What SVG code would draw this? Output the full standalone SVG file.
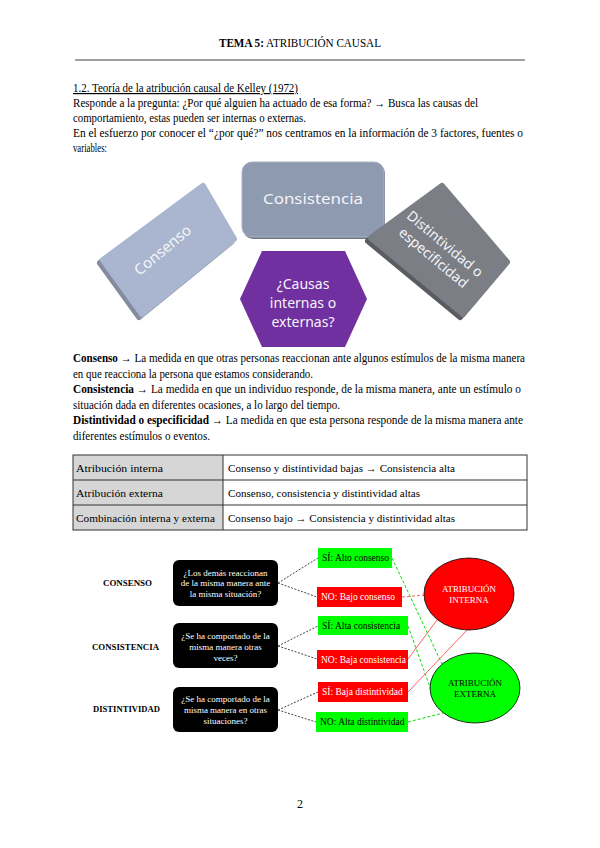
<svg xmlns="http://www.w3.org/2000/svg" width="600" height="848" viewBox="0 0 600 848">
<style>
.t{font-family:"Liberation Serif","Times New Roman",serif;font-size:12px;fill:#000}
.b{font-weight:bold}
.tc{font-family:"Liberation Serif","Times New Roman",serif;font-size:11px;fill:#000}
.sh{font-family:"Noto Sans","Open Sans",sans-serif;fill:#F4F4F8}
.q{font-family:"Liberation Serif","Times New Roman",serif;font-size:9px;fill:#fff;text-anchor:middle}
.lab{font-family:"Liberation Serif","Times New Roman",serif;font-size:9px;font-weight:bold;fill:#000}
.bx{font-family:"Liberation Serif","Times New Roman",serif;font-size:9.5px}
.dk{stroke:#444;stroke-width:1;stroke-dasharray:2 1.5;fill:none}
.gl{stroke:#00E000;stroke-width:1;stroke-dasharray:3 2;fill:none}
.rl{stroke:#FF6060;stroke-width:1;fill:none}
.rnd{stroke-linejoin:round;stroke-width:6}
</style>
<rect width="600" height="848" fill="#fff"/>
<g id="header">
<text x="300" y="47" text-anchor="middle" class="t" textLength="162" lengthAdjust="spacingAndGlyphs"><tspan class="b">TEMA 5:</tspan> ATRIBUCIÓN CAUSAL</text>
<line x1="75" y1="60" x2="525" y2="60" stroke="#A0A0A0" stroke-width="2"/>
</g>
<g id="intro">
<text x="73" y="92" class="t" text-decoration="underline" textLength="225" lengthAdjust="spacingAndGlyphs">1.2. Teoría de la atribución causal de Kelley (1972)</text>
<text x="73" y="107" class="t" textLength="405" lengthAdjust="spacingAndGlyphs">Responde a la pregunta: ¿Por qué alguien ha actuado de esa forma? → Busca las causas del</text>
<text x="73" y="122" class="t" textLength="233" lengthAdjust="spacingAndGlyphs">comportamiento, estas pueden ser internas o externas.</text>
<text x="73" y="137" class="t" textLength="450" lengthAdjust="spacingAndGlyphs">En el esfuerzo por conocer el “¿por qué?” nos centramos en la información de 3 factores, fuentes o</text>
<text x="73" y="152" class="t" textLength="34" lengthAdjust="spacingAndGlyphs">variables:</text>
</g>
<g id="node-consenso">
<polygon class="rnd" points="200,189 231,242 139,317 100,263" fill="#848CA0" stroke="#848CA0"/>
<polygon class="rnd" points="203,186 234,239 142,314 103,260" fill="#AAB6CF" stroke="#AAB6CF"/>
<text transform="translate(166,254) rotate(-40)" text-anchor="middle" class="sh" font-size="15">Consenso</text>
</g>
<g id="node-consistencia">
<rect x="243" y="163" width="142" height="76" rx="10" fill="#6E7888"/>
<rect x="242" y="162" width="142" height="75" rx="10" fill="#8E9AB0" stroke="#A8B2C4" stroke-width="1"/>
<text x="313" y="204" text-anchor="middle" class="sh" font-size="15" textLength="100" lengthAdjust="spacingAndGlyphs">Consistencia</text>
</g>
<g id="node-distintividad">
<polygon class="rnd" points="439,189 504,265 460,317 368,241" fill="#5A5C62" stroke="#5A5C62"/>
<polygon class="rnd" points="442,186 507,262 463,314 371,238" fill="#7B7E85" stroke="#7B7E85"/>
<g transform="translate(440,250) rotate(40)">
<text x="0" y="-3" text-anchor="middle" class="sh" font-size="14">Distintividad o</text>
<text x="0" y="15" text-anchor="middle" class="sh" font-size="14">especificidad</text>
</g>
</g>
<g id="node-causas">
<polygon points="262,251 345,251 367,299 345,347 262,347 240,299" fill="#7030A0"/>
<text x="303" y="289" text-anchor="middle" class="sh" font-size="14">¿Causas</text>
<text x="303" y="308" text-anchor="middle" class="sh" font-size="14">internas o</text>
<text x="303" y="327" text-anchor="middle" class="sh" font-size="14">externas?</text>
</g>
<g id="definitions">
<text x="73" y="362" class="t" textLength="452" lengthAdjust="spacingAndGlyphs"><tspan class="b">Consenso</tspan> → La medida en que otras personas reaccionan ante algunos estímulos de la misma manera</text>
<text x="73" y="378" class="t" textLength="240" lengthAdjust="spacingAndGlyphs">en que reacciona la persona que estamos considerando.</text>
<text x="73" y="393" class="t" textLength="448" lengthAdjust="spacingAndGlyphs"><tspan class="b">Consistencia</tspan> → La medida en que un individuo responde, de la misma manera, ante un estímulo o</text>
<text x="73" y="409" class="t" textLength="267" lengthAdjust="spacingAndGlyphs">situación dada en diferentes ocasiones, a lo largo del tiempo.</text>
<text x="73" y="424" class="t" textLength="450" lengthAdjust="spacingAndGlyphs"><tspan class="b">Distintividad o especificidad</tspan> → La medida en que esta persona responde de la misma manera ante</text>
<text x="73" y="440" class="t" textLength="137" lengthAdjust="spacingAndGlyphs">diferentes estímulos o eventos.</text>
</g>
<g id="table">
<rect x="73" y="455" width="150" height="75" fill="#D6D6D6"/>
<rect x="73" y="455" width="454" height="75" fill="none" stroke="#333" stroke-width="1"/>
<line x1="223" y1="455" x2="223" y2="530" stroke="#333"/>
<line x1="73" y1="480" x2="527" y2="480" stroke="#333"/>
<line x1="73" y1="505" x2="527" y2="505" stroke="#333"/>
<text x="76" y="472" class="tc" textLength="87" lengthAdjust="spacingAndGlyphs">Atribución interna</text>
<text x="76" y="497" class="tc" textLength="87" lengthAdjust="spacingAndGlyphs">Atribución externa</text>
<text x="76" y="522" class="tc" textLength="139" lengthAdjust="spacingAndGlyphs">Combinación interna y externa</text>
<text x="228" y="472" class="tc" textLength="227" lengthAdjust="spacingAndGlyphs">Consenso y distintividad bajas → Consistencia alta</text>
<text x="228" y="497" class="tc" textLength="192" lengthAdjust="spacingAndGlyphs">Consenso, consistencia y distintividad altas</text>
<text x="228" y="522" class="tc" textLength="227" lengthAdjust="spacingAndGlyphs">Consenso bajo → Consistencia y distintividad altas</text>
</g>
<g id="connectors">
<line class="dk" x1="278" y1="583" x2="318" y2="558"/>
<line class="dk" x1="278" y1="583" x2="317" y2="597"/>
<line class="dk" x1="278" y1="646" x2="318" y2="626"/>
<line class="dk" x1="278" y1="646" x2="317" y2="659"/>
<line class="dk" x1="278" y1="710" x2="318" y2="692"/>
<line class="dk" x1="278" y1="710" x2="316" y2="722"/>
<line class="gl" x1="392" y1="558" x2="442" y2="664"/>
<line class="rl" x1="402" y1="597" x2="425" y2="595" stroke-dasharray="3 2"/>
<line class="gl" x1="408" y1="626" x2="431" y2="690"/>
<line class="rl" x1="408" y1="659" x2="437" y2="620"/>
<line class="rl" x1="408" y1="692" x2="468" y2="629"/>
<line class="gl" x1="408" y1="722" x2="443" y2="713"/>
</g>
<g id="label-consenso"><text x="103" y="586" class="lab" textLength="49" lengthAdjust="spacingAndGlyphs">CONSENSO</text></g>
<g id="label-consistencia"><text x="92" y="650" class="lab" textLength="67" lengthAdjust="spacingAndGlyphs">CONSISTENCIA</text></g>
<g id="label-distintividad"><text x="93" y="712" class="lab" textLength="67" lengthAdjust="spacingAndGlyphs">DISTINTIVIDAD</text></g>
<g id="q-consenso">
<rect x="173" y="560" width="105" height="46" rx="6" fill="#000"/>
<text x="225.5" y="576" class="q">¿Los demás reaccionan</text>
<text x="225.5" y="586" class="q">de la misma manera ante</text>
<text x="225.5" y="597" class="q">la misma situación?</text>
</g>
<g id="q-consistencia">
<rect x="173" y="623" width="105" height="45" rx="6" fill="#000"/>
<text x="225.5" y="639" class="q">¿Se ha comportado de la</text>
<text x="225.5" y="650" class="q">misma manera otras</text>
<text x="225.5" y="661" class="q">veces?</text>
</g>
<g id="q-distintividad">
<rect x="173" y="687" width="105" height="45" rx="6" fill="#000"/>
<text x="225.5" y="702" class="q">¿Se ha comportado de la</text>
<text x="225.5" y="713" class="q">misma manera en otras</text>
<text x="225.5" y="724" class="q">situaciones?</text>
</g>
<g id="si-alto-consenso">
<rect x="318" y="548" width="74" height="20" fill="#00FF00"/>
<text x="322" y="561" class="bx" fill="#000">SÍ: Alto consenso</text>
</g>
<g id="no-bajo-consenso">
<rect x="317" y="587" width="85" height="20" fill="#FF0000"/>
<text x="321" y="600" class="bx" fill="#fff">NO: Bajo consenso</text>
</g>
<g id="si-alta-consistencia">
<rect x="318" y="616" width="90" height="19" fill="#00FF00"/>
<text x="322" y="629" class="bx" fill="#000">SÍ: Alta consistencia</text>
</g>
<g id="no-baja-consistencia">
<rect x="317" y="650" width="91" height="19" fill="#FF0000"/>
<text x="321" y="663" class="bx" fill="#fff">NO: Baja consistencia</text>
</g>
<g id="si-baja-distintividad">
<rect x="318" y="682" width="90" height="20" fill="#FF0000"/>
<text x="322" y="695" class="bx" fill="#fff">SÍ: Baja distintividad</text>
</g>
<g id="no-alta-distintividad">
<rect x="316" y="712" width="92" height="20" fill="#00FF00"/>
<text x="320" y="725" class="bx" fill="#000">NO: Alta distintividad</text>
</g>
<g id="atribucion-interna">
<ellipse cx="469" cy="594" rx="45" ry="36" fill="#FF0000" stroke="#000" stroke-width="0.8"/>
<text x="469" y="592" class="q" textLength="54" lengthAdjust="spacingAndGlyphs">ATRIBUCIÓN</text>
<text x="469" y="603" class="q">INTERNA</text>
</g>
<g id="atribucion-externa">
<ellipse cx="475" cy="688" rx="45" ry="35" fill="#00FF00" stroke="#000" stroke-width="0.8"/>
<text x="475" y="686" class="q" style="fill:#000" textLength="54" lengthAdjust="spacingAndGlyphs">ATRIBUCIÓN</text>
<text x="475" y="697" class="q" style="fill:#000">EXTERNA</text>
</g>
<g id="footer"><text x="300" y="808" text-anchor="middle" class="t">2</text></g>
</svg>
